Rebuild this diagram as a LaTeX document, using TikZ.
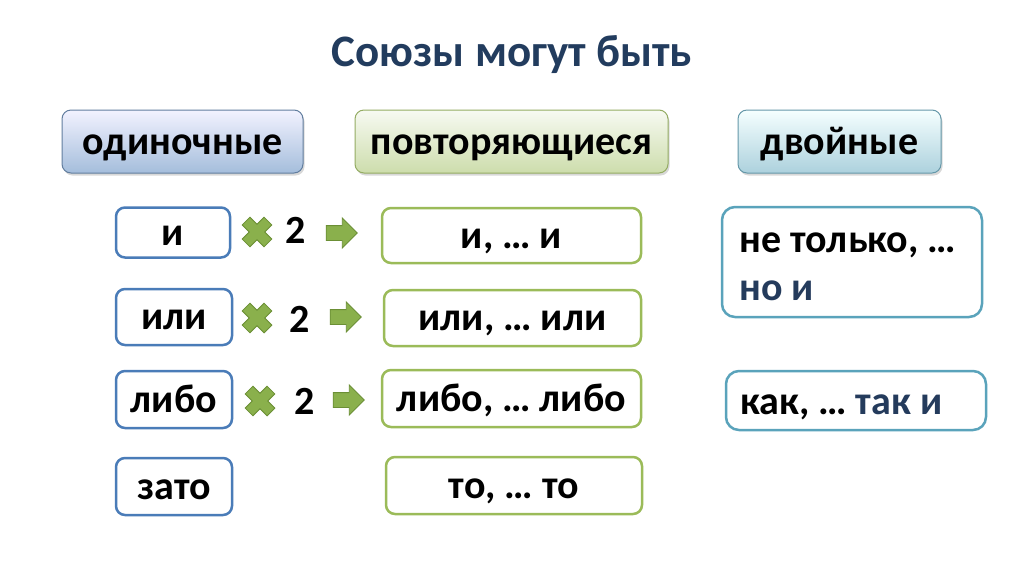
\documentclass[tikz,border=0pt]{standalone}
\usepackage{fontspec}
\setmainfont{Carlito}
\usetikzlibrary{shadows,shapes.arrows}
\definecolor{titlec}{HTML}{223C5E}
\definecolor{blueb}{HTML}{4A7CB8}
\definecolor{greenb}{HTML}{9BBB59}
\definecolor{tealb}{HTML}{5AA3BB}
\definecolor{darkblue}{HTML}{243B5C}
\definecolor{gfill}{HTML}{8AB04C}
\definecolor{gdark}{HTML}{6B8F35}
\tikzset{
  txt/.style={font=\fontsize{40}{48}\selectfont\bfseries, text height=25pt, text depth=0pt, inner sep=0pt},
  hdr/.style={txt, rounded corners=9pt, draw=#1, line width=1pt, minimum height=63pt, drop shadow={shadow xshift=1.5pt, shadow yshift=-2.5pt, opacity=0.3}},
  lbox/.style={txt, rounded corners=9pt, draw=blueb, line width=2.5pt, fill=white},
  mbox/.style={txt, rounded corners=9pt, draw=greenb, line width=2.5pt, fill=white},
  rbox/.style={rounded corners=13pt, draw=tealb, line width=2.5pt, fill=white, inner sep=0pt},
  rtxt/.style={font=\fontsize{40}{48}\selectfont\bfseries, inner sep=0pt, anchor=base west},
  two/.style={font=\fontsize{40}{48}\selectfont\bfseries, inner sep=0pt, anchor=base},
  garrow/.style={single arrow, draw=gdark, fill=gfill, line width=0.9pt, minimum height=31pt, minimum width=29pt, inner xsep=0pt, inner ysep=7pt, single arrow head extend=7.5pt, single arrow tip angle=90},
  crossx/.pic={\draw[draw=gdark, fill=gfill, line width=0.8pt, rotate=45]
     (-5.5,-15.5) -- (5.5,-15.5) -- (5.5,-5.5) -- (15.5,-5.5) -- (15.5,5.5) -- (5.5,5.5) -- (5.5,15.5) -- (-5.5,15.5) -- (-5.5,5.5) -- (-15.5,5.5) -- (-15.5,-5.5) -- (-5.5,-5.5) -- cycle;}
}
\begin{document}
\begin{tikzpicture}[x=1pt,y=-1pt]
\useasboundingbox (0,0) rectangle (1024,574);
\fill[white] (0,0) rectangle (1024,574);
\node[font=\fontsize{45}{54}\selectfont\bfseries, text=titlec, anchor=base, inner sep=0pt] (title) at (512,66) {Союзы могут быть};
% headers
\node[hdr=blueb!55!gray, minimum width=241pt, top color=blue!5!white, bottom color=blueb!50!white] (h1) at (182.5,141.5) {одиночные};
\node[hdr=greenb!75!gray, minimum width=313pt, top color=greenb!8!white, bottom color=greenb!50!white] (h2) at (511.5,141.5) {повторяющиеся};
\node[hdr=tealb!70!gray, minimum width=203pt, top color=cyan!4!white, bottom color=tealb!50!white] (h3) at (839.5,141.5) {двойные};
% left column
\node[lbox, minimum width=114pt, minimum height=50pt] (l1) at (173,232.5) {и};
\node[lbox, minimum width=116pt, minimum height=56pt] (l2) at (174,317) {или};
\node[lbox, minimum width=116pt, minimum height=57pt] (l3) at (174,399.5) {либо};
\node[lbox, minimum width=116pt, minimum height=57pt] (l4) at (174,486.5) {зато};
% middle column
\node[mbox, minimum width=259pt, minimum height=55pt] (m1) at (511.5,235.5) {и, … и};
\node[mbox, minimum width=257pt, minimum height=56pt] (m2) at (512.5,318) {или, … или};
\node[mbox, minimum width=259pt, minimum height=57pt] (m3) at (511.5,398.5) {либо, … либо};
\node[mbox, minimum width=256pt, minimum height=57pt] (m4) at (514,485.5) {то, … то};
% right column
\node[rbox, minimum width=260pt, minimum height=110pt] (r1) at (852,262) {};
\node[rtxt] (r1a) at (739,252) {не только, …};
\node[rtxt, text=darkblue] (r1b) at (739,300) {но и};
\node[rbox, minimum width=260pt, minimum height=59pt] (r2) at (856,400.5) {};
\node[rtxt] (r2a) at (740,414) {как, … \textcolor{darkblue}{так и}};
% multipliers
\pic (x1) at (257,232) {crossx};
\node[two] (t1) at (296,243) {2};
\node[garrow] (a1) at (338,233) {};
\pic (x2) at (257,318) {crossx};
\node[two] (t2) at (300,332) {2};
\node[garrow] (a2) at (342,317) {};
\pic (x3) at (260,401) {crossx};
\node[two] (t3) at (305,414) {2};
\node[garrow] (a3) at (345,400) {};
\end{tikzpicture}
\end{document}
